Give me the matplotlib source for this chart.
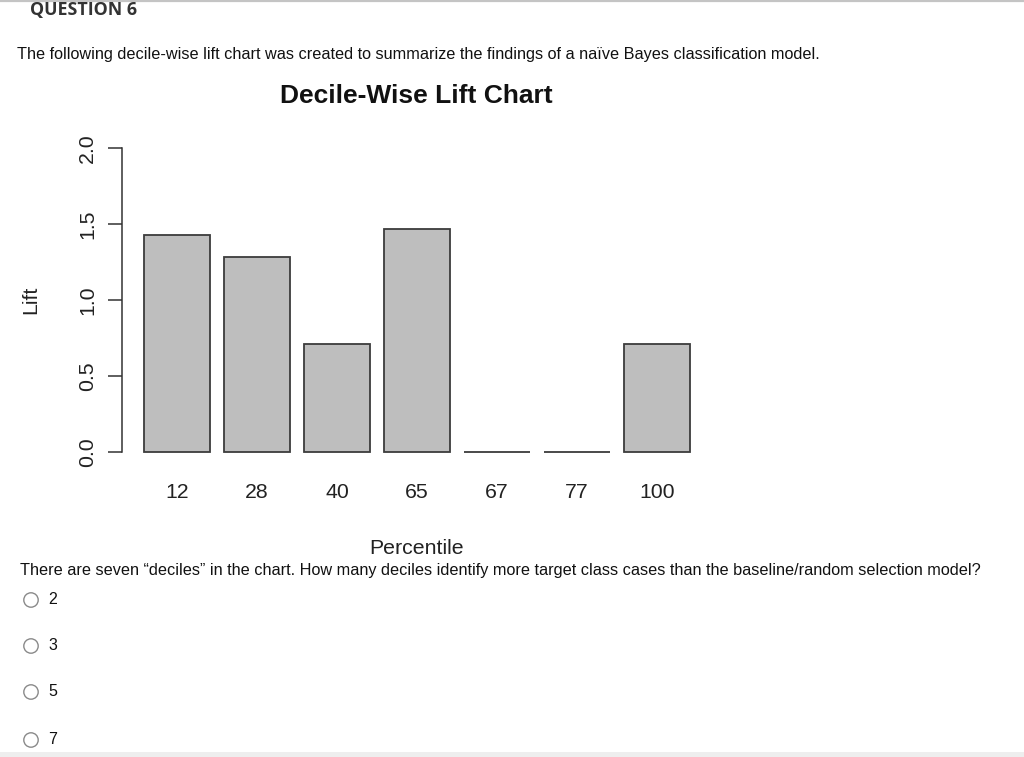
import matplotlib
matplotlib.use("Agg")
import matplotlib.pyplot as plt
from matplotlib.patches import Circle, Rectangle

# ---- data ----
percentiles = ["12", "28", "40", "65", "67", "77", "100"]
lift = [1.43, 1.28, 0.71, 1.47, 0.0, 0.0, 0.71]
y_ticks = [0.0, 0.5, 1.0, 1.5, 2.0]
y_tick_labels = ["0.0", "0.5", "1.0", "1.5", "2.0"]
question_title = "QUESTION 6"
intro_text = ("The following decile-wise lift chart was created to summarize the findings "
              "of a na\u00efve Bayes classification model.")
question_text = ("There are seven \u201cdeciles\u201d in the chart. How many deciles identify more "
                 "target class cases than the baseline/random selection model?")
options = ["2", "3", "5", "7"]

W, H = 1024, 757
fig = plt.figure(figsize=(W / 100, H / 100), dpi=100)
fig.patch.set_facecolor("white")

SANS = ["Liberation Sans", "DejaVu Sans"]
AX_FS = 15.3

# overlay axes in pixel coords for page decoration
ov = fig.add_axes([0, 0, 1, 1], zorder=0)
ov.set_xlim(0, W)
ov.set_ylim(H, 0)
ov.axis("off")
ov.plot([0, W], [0.8, 0.8], color="#c4c4c4", lw=1.6)
ov.add_patch(Rectangle((0, 752), W, 6, color="#eeeeee", lw=0))

fig.text(30 / W, 1 - 10 / H, question_title, fontsize=12.8, fontweight="bold",
         family=["Open Sans", "DejaVu Sans"], color="#333333", va="center", ha="left")
fig.text(17 / W, 1 - 55 / H, intro_text, fontsize=11.69, family=SANS, color="#111111",
         va="center", ha="left")
fig.text(20 / W, 1 - 571 / H, question_text, fontsize=11.69, family=SANS, color="#111111",
         va="center", ha="left")

opt_y = [600, 646, 692, 740]
for yy, lab in zip(opt_y, options):
    ov.add_patch(Circle((31, yy), 7.2, fill=False, edgecolor="#8a8a8a", lw=1.0))
    ov.text(48, yy - 1, lab, fontsize=11.5, family=SANS, color="#111111", va="center", ha="left")

# ---- chart ----
left_px, right_px, top_px, bot_px = 122, 712, 136, 464
ax = fig.add_axes([left_px / W, 1 - bot_px / H, (right_px - left_px) / W, (bot_px - top_px) / H],
                  zorder=1)
ax.patch.set_alpha(0)
n = len(lift)
xs = [0.2 + 1.2 * i + 0.5 for i in range(n)]
ax.bar(xs, lift, width=1.0, color="#bebebe", edgecolor="#3c3c3c", linewidth=1.3)
ax.set_xlim(-0.128, 8.728)
ax.set_ylim(-0.08, 2.08)
for s in ["top", "right", "bottom"]:
    ax.spines[s].set_visible(False)
ax.spines["left"].set_bounds(0, 2)
ax.spines["left"].set_color("#333333")
ax.spines["left"].set_linewidth(1.1)
ax.set_yticks(y_ticks)
ax.set_yticklabels(y_tick_labels, rotation=90, va="center", family=SANS, fontsize=AX_FS,
                   color="#222222")
ax.tick_params(axis="y", length=10, width=1.1, color="#333333", pad=8)
ax.set_xticks(xs)
ax.set_xticklabels(percentiles, family=SANS, fontsize=AX_FS, color="#222222")
ax.tick_params(axis="x", length=0, pad=14)
ax.set_xlabel("Percentile", family=SANS, fontsize=AX_FS, color="#222222")
ax.xaxis.set_label_coords(0.5, -(548 - bot_px) / (bot_px - top_px), transform=ax.transAxes)
ax.xaxis.label.set_va("center")
ax.set_ylabel("Lift", family=SANS, fontsize=AX_FS, color="#222222")
ax.yaxis.set_label_coords(-(left_px - 31) / (right_px - left_px), 0.5, transform=ax.transAxes)
ax.yaxis.label.set_va("center")
fig.text(416 / W, 1 - 96 / H, "Decile-Wise Lift Chart", family=SANS, fontsize=19,
         fontweight="bold", color="#111111", ha="center", va="center")

fig.savefig("out.png", dpi=100)
